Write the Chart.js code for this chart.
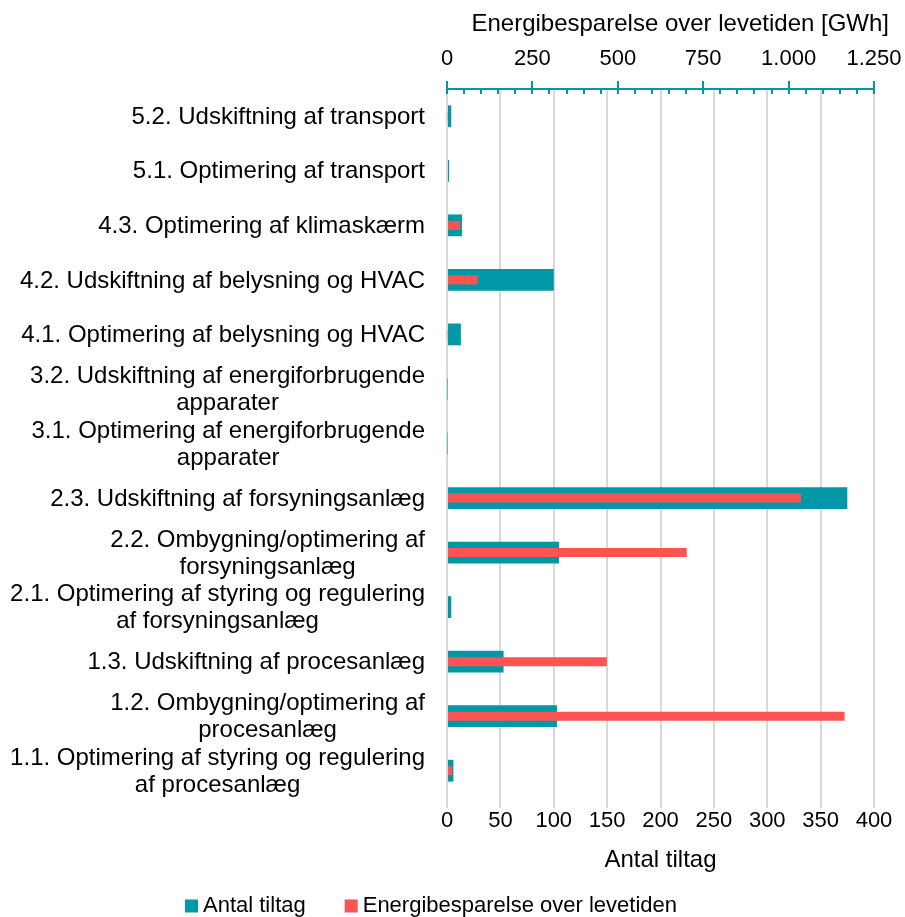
<!DOCTYPE html>
<html>
<head>
<meta charset="utf-8">
<script src="https://cdn.jsdelivr.net/npm/chart.js@4/dist/chart.umd.min.js"></script>
<style>
  html, body { margin: 0; padding: 0; background: #fff; }
  #wrap { width: 905px; height: 917px; }
</style>
</head>
<body>
<div id="wrap"><canvas id="myChart"></canvas></div>
<script>
var categories = [
    ["5.2. Udskiftning af transport"],
    ["5.1. Optimering af transport"],
    ["4.3. Optimering af klimaskærm"],
    ["4.2. Udskiftning af belysning og HVAC"],
    ["4.1. Optimering af belysning og HVAC"],
    ["3.2. Udskiftning af energiforbrugende", "apparater"],
    ["3.1. Optimering af energiforbrugende", "apparater"],
    ["2.3. Udskiftning af forsyningsanlæg"],
    ["2.2. Ombygning/optimering af", "forsyningsanlæg"],
    ["2.1. Optimering af styring og regulering", "af forsyningsanlæg"],
    ["1.3. Udskiftning af procesanlæg"],
    ["1.2. Ombygning/optimering af", "procesanlæg"],
    ["1.1. Optimering af styring og regulering", "af procesanlæg"]
];
var antalTiltag = [4, 2, 14, 100, 13, 0.5, 0.5, 375, 105, 4, 53, 103, 6];
var energiGWh = [2, 0, 38, 90, 2, 0, 0, 1036, 702, 0, 468, 1164, 15];

var antalTicks = [0, 50, 100, 150, 200, 250, 300, 350, 400];
var energiTicks = [0, 250, 500, 750, 1000, 1250];

var seriesNames = ["Antal tiltag", "Energibesparelse over levetiden"];
var topTitle = "Energibesparelse over levetiden [GWh]";

var teal = "#0098a6";
var red = "#ff5353";
var fontFam = '"Liberation Sans", Arial, sans-serif';

Chart.defaults.font.family = fontFam;
Chart.defaults.font.size = 22;
Chart.defaults.color = "#000";

function danish(v) {
    return String(v).replace(/\B(?=(\d{3})+(?!\d))/g, ".");
}

// category labels (wrapped lines centred on each other), top axis title,
// minor ticks of the top axis and the legend
var extras = {
    id: "extras",
    afterDraw: function(chart) {
        var ctx = chart.ctx;
        var y = chart.scales.y;
        ctx.save();
        ctx.font = "24px " + fontFam;
        ctx.fillStyle = "#000";
        ctx.textAlign = "center";
        ctx.textBaseline = "middle";
        categories.forEach(function(lines, i) {
            var cy = y.getPixelForValue(i);
            var w = Math.max.apply(null, lines.map(function(l) { return ctx.measureText(l).width; }));
            var cx = chart.chartArea.left - 22 - w / 2;
            lines.forEach(function(l, j) {
                ctx.fillText(l, cx, cy + 1 + (j - (lines.length - 1) / 2) * 27);
            });
        });

        // top axis title
        var tw = ctx.measureText(topTitle).width;
        ctx.fillText(topTitle, chart.width - 16 - tw / 2, 24);

        // ticks below the top axis line
        var x2 = chart.scales.x2;
        ctx.strokeStyle = teal;
        ctx.lineWidth = 2;
        for (var v = 0; v <= 1250; v += 50) {
            var px = Math.round(x2.getPixelForValue(v));
            ctx.beginPath();
            ctx.moveTo(px, x2.bottom - 1);
            ctx.lineTo(px, x2.bottom + 5);
            ctx.stroke();
        }

        // legend
        ctx.font = "22px " + fontFam;
        ctx.textAlign = "left";
        var colors = [teal, red];
        var widths = seriesNames.map(function(s) { return ctx.measureText(s).width; });
        var box = 13, gap = 5, between = 39;
        var total = box * 2 + gap * 2 + widths[0] + widths[1] + between;
        var lx = 431 - total / 2;
        var ly = 906;
        seriesNames.forEach(function(s, i) {
            ctx.fillStyle = colors[i];
            ctx.fillRect(lx, ly - box / 2, box, box);
            ctx.fillStyle = "#000";
            ctx.fillText(s, lx + box + gap, ly);
            lx += box + gap + widths[i] + between;
        });
        ctx.restore();
    }
};

function noSidePadding(s) {
    s.paddingLeft = 0;
    s.paddingRight = 0;
}

var ctx2 = document.getElementById("myChart").getContext("2d");
var myChart = new Chart(ctx2, {
    type: "bar",
    data: {
        labels: categories,
        datasets: [{
            label: seriesNames[0],
            data: antalTiltag,
            backgroundColor: teal,
            xAxisID: "x",
            barPercentage: 0.4,
            categoryPercentage: 1,
            grouped: false,
            order: 2
        }, {
            label: seriesNames[1],
            data: energiGWh,
            backgroundColor: red,
            xAxisID: "x2",
            barPercentage: 0.165,
            categoryPercentage: 1,
            grouped: false,
            order: 1
        }]
    },
    options: {
        indexAxis: "y",
        responsive: true,
        maintainAspectRatio: false,
        animation: false,
        layout: { padding: { top: 0, right: 31, bottom: 0, left: 0 } },
        plugins: {
            tooltip: { enabled: false },
            legend: { display: false }
        },
        scales: {
            y: {
                ticks: { display: false },
                grid: { display: false },
                border: { display: false },
                afterFit: function(s) { s.width = 447; }
            },
            x: {
                position: "bottom",
                min: 0,
                max: 400,
                afterBuildTicks: function(s) {
                    s.ticks = antalTicks.map(function(v) { return { value: v }; });
                },
                ticks: { padding: 0 },
                grid: { color: "#d9d9d9", lineWidth: 2, tickLength: 10 },
                border: { display: false },
                title: {
                    display: true,
                    text: "Antal tiltag",
                    font: { size: 24 },
                    padding: { top: 0, bottom: 42 }
                },
                afterFit: function(s) { s.height = 119; noSidePadding(s); }
            },
            x2: {
                position: "top",
                min: 0,
                max: 1250,
                afterBuildTicks: function(s) {
                    s.ticks = energiTicks.map(function(v) { return { value: v }; });
                },
                ticks: {
                    padding: 9,
                    callback: function(v) { return danish(v); }
                },
                grid: { drawOnChartArea: false, color: teal, lineWidth: 2, tickLength: 8 },
                border: { display: true, color: teal, width: 2 },
                afterFit: function(s) { s.height = 89; noSidePadding(s); }
            }
        }
    },
    plugins: [extras]
});
</script>
</body>
</html>
